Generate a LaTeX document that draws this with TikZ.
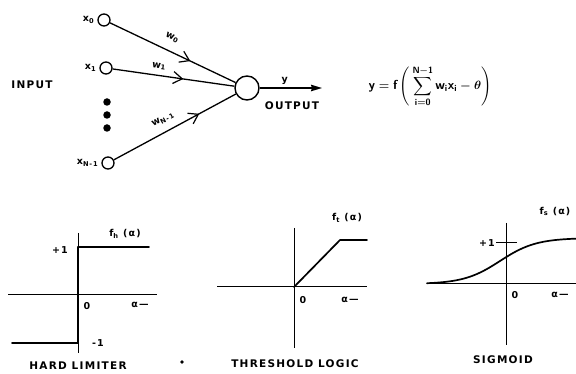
\documentclass[tikz,border=0pt]{standalone}
\usepackage{amsmath,amssymb}
\usepackage{fontspec}
\newfontfamily\lblfont{DejaVu Sans}[LetterSpace=12]
\usetikzlibrary{arrows.meta,decorations.markings,positioning}

\begin{document}
\begin{tikzpicture}[x=1pt,y=-1pt, every node/.style={font=\lblfont\bfseries\fontsize{10.5}{12}\selectfont,inner sep=1pt},
  sm/.style={font=\lblfont\bfseries\fontsize{9.5}{11}\selectfont},
  inp/.style={circle,draw,line width=1.3pt,minimum size=12pt,inner sep=0pt},
  dot/.style={circle,fill,minimum size=7.5pt,inner sep=0pt},
  syn/.style={line width=1.3pt,postaction={decorate},decoration={markings,mark=at position #1 with {\arrow{Straight Barb[length=9pt,width=12pt,line width=1.2pt]}}}},
  outarr/.style={line width=1.3pt,-{Stealth[length=11pt,width=6.5pt,inset=1pt]}},
  ax/.style={line width=1pt},
  fn/.style={line width=1.7pt,line cap=round,line join=round}]
  \useasboundingbox (0,0) rectangle (576,374);
  % neuron
  \node[inp] (x0) at (104,20) {};
  \node[inp] (x1) at (106,68) {};
  \node[dot] (d1) at (107,102) {};
  \node[dot] (d2) at (107,115) {};
  \node[dot] (d3) at (107,128) {};
  \node[inp] (xn) at (108,163) {};
  \node[circle,draw,line width=1.4pt,minimum size=24pt,inner sep=0pt] (n) at (247,88) {};
  \node[sm,left=2pt of x0] (x0t) {x\textsubscript{0}};
  \node[sm,left=2pt of x1] (x1t) {x\textsubscript{1}};
  \node[sm,left=2pt of xn] (xnt) {x\textsubscript{N-1}};
  \node (inl) at (32,85) {INPUT};
  \draw[syn=0.64] (x0) -- node[sm,pos=0.45,sloped,above=8pt] (w0) {w\textsubscript{0}} (n);
  \draw[syn=0.58] (x1) -- node[sm,pos=0.37,sloped,above=4pt] (w1) {w\textsubscript{1}} (n);
  \draw[syn=0.70] (xn) -- node[sm,pos=0.45,sloped,above=7pt] (wn) {w\textsubscript{N-1}} (n);
  \coordinate (yend) at (322,88);
  \draw[outarr] (n) -- node[sm,pos=0.4,above=2pt] (ylab) {y} (yend);
  \node (outl) at (292,106) {OUTPUT};
  \node[font=\fontsize{13}{15}\selectfont\boldmath] (eq) at (430,86) {$\displaystyle \mathsf{y}=\mathsf{f}\,\Biggl(\,\sum_{\mathsf{i=0}}^{\mathsf{N-1}} \mathsf{w_i x_i}-\theta\Biggr)$};
  % hard limiter
  \draw[ax] (8,295) -- (157,295);
  \draw[ax] (78,233) -- (78,353);
  \draw[fn] (78,343) -- (78,247) -- (149,247);
  \draw[fn] (12,343) -- (78,343);
  \node[sm] (hp) at (60,250) {+1};
  \node[sm] (hf) at (125,234) {f\textsubscript{h} (α)};
  \node[sm] (h0) at (87,306) {0};
  \node[sm] (ha) at (140,305) {α—};
  \node[sm] (hm) at (98,343) {-1};
  \node (hl) at (78,366) {HARD LIMITER};
  \fill (182,362) circle (1.8);
  % threshold logic
  \draw[ax] (217,287) -- (367,287);
  \draw[ax] (294,228) -- (294,348);
  \draw[fn] (294,287) -- (340,240) -- (367,240);
  \node[sm] (tf) at (347,218) {f\textsubscript{t} (α)};
  \node[sm] (t0) at (303,300) {0};
  \node[sm] (ta) at (350,300) {α—};
  \node (tl) at (295,364) {THRESHOLD LOGIC};
  % sigmoid
  \draw[ax] (427,284) -- (576,284);
  \draw[ax] (506,223) -- (506,345);
  \draw[ax] (496,243) -- (517,243);
  \draw[fn] plot[domain=427:576,samples=60,smooth] (\x,{284-46/(1+exp(-(\x-500)/18))});
  \node[sm] (sp) at (487,243) {+1};
  \node[sm] (sf) at (555,212) {f\textsubscript{s} (α)};
  \node[sm] (s0) at (515,295) {0};
  \node[sm] (sa) at (560,295) {α—};
  \node (sl) at (503,360) {SIGMOID};
\end{tikzpicture}
\end{document}
